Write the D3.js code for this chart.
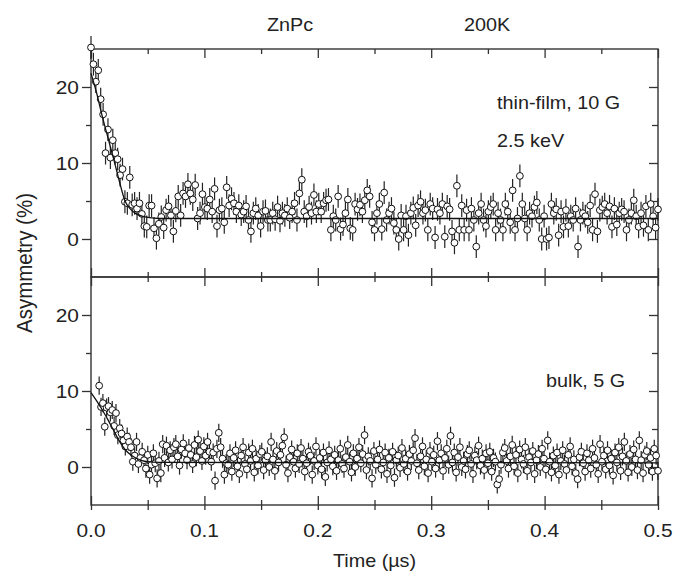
<!DOCTYPE html>
<html>
<head>
<meta charset="utf-8">
<script src="https://cdn.jsdelivr.net/npm/d3@7"></script>
<style>
  body { margin: 0; background: #fff; }
  text { font-family: "Liberation Sans", Arial, sans-serif; fill: #222; }
</style>
</head>
<body>
<script>
// thin-film, 10 G, 2.5 keV  (equal time bins)
const topValues = [
  25.2, 23.0, 20.7, 22.2, 18.4, 16.4, 11.3, 14.4, 10.7, 13.0,
  11.3, 10.5, 8.4, 9.2, 4.9, 4.7, 8.1, 4.5, 4.7, 4.0,
  4.7, 3.3, 1.7, 1.6, 4.4, 4.4, 1.4, 0.1, 2.0, 2.9,
  1.5, 3.8, 4.3, 3.1, 1.0, 3.7, 5.6, 3.1, 6.0, 5.6,
  7.2, 6.0, 5.2, 7.1, 2.7, 3.4, 5.9, 4.2, 4.0, 5.2,
  3.6, 6.6, 1.7, 3.8, 4.0, 2.2, 6.8, 4.4, 5.3, 4.7,
  3.6, 4.4, 3.2, 3.6, 4.3, 2.5, 1.0, 3.4, 4.0, 3.1,
  1.7, 3.6, 3.7, 2.5, 2.5, 3.4, 2.6, 4.2, 2.4, 3.4,
  3.1, 4.0, 2.8, 3.6, 4.7, 2.5, 6.0, 7.8, 3.6, 3.0,
  4.2, 3.4, 5.8, 3.6, 4.6, 3.6, 4.7, 5.1, 5.2, 1.2,
  3.0, 2.5, 5.6, 1.3, 1.9, 3.4, 5.2, 1.4,
  1.2, 4.6, 3.9, 4.5, 3.6, 5.1, 6.4, 5.6, 2.2, 1.2,
  3.4, 4.6, 1.3, 6.1, 2.5, 3.4, 4.0, 2.1, 1.2, 0.0,
  3.1, 1.2, 3.0, 0.5, 3.4, 4.1, 1.8, 4.4, 4.9, 3.4,
  3.8, 1.2, 4.6, 4.0, 0.2, 3.9, 3.4, 4.6, 0.3, 4.3,
  3.9, 1.0, -0.5, 7.0, 1.2, 4.4, 1.2, 3.8, 1.2, 4.0,
  2.5, -1.0, 3.4, 4.6, 2.5, 1.7, 3.6, 4.2, 4.6, 1.2,
  3.4, 2.5, 1.2, 4.6, 3.6, 2.2, 6.4, 1.2, 2.7, 8.3,
  4.6, 2.7, 1.2, 3.4, 3.0, 4.2, 4.8, 2.5, 0.0, 3.0,
  0.0, 0.2, 4.6, 3.4, 3.9, 0.5, 3.6, 1.6, 3.8, 1.7,
  3.0, 2.5, 4.0, -1.0, 2.5, 3.4, 3.0, 2.2, 4.4, 1.2,
  5.9, 1.0, 3.8, 4.2, 4.6, 3.4, 4.3, 1.6, 4.0, 1.9,
  3.4, 3.9, 3.6, 1.2, 2.5, 3.4, 5.1, 3.0, 1.6, 3.4,
  1.8, 4.3, 1.2, 4.6, 3.0, 1.5, 3.9
];
const topStart = 0;
const topStep = 0.5 / 234;
const topError = 1.5;
const topFitTimes = [0, 0.005, 0.01, 0.015, 0.02, 0.025, 0.03, 0.035, 0.04, 0.045, 0.05, 0.06, 0.5];
const topFitValues = [21.8, 19.2, 16.1, 13.3, 10.5, 7.6, 5.0, 3.9, 3.3, 3.0, 2.85, 2.7, 2.7];

// bulk, 5 G
const bottomValues = [
  10.7, 7.9, 8.4, 5.3, 7.8, 8.0, 7.2, 7.5, 5.4, 7.1,
  4.2, 5.1, 4.4, 3.5, 2.7, 4.0, 3.3, 2.6,
  0.7, 1.5, 3.3, 0.4, 1.2, 2.0, 0.9, -0.2, 1.6, -1.0,
  0.3, 1.8, 0.5, -1.5, 0.8, -0.8,
  3.0, 1.2, 2.8, 0.6, 2.2, 1.0, 2.6, 3.0, 1.4, 0.2,
  2.3, 3.1, 1.8, 0.9, 2.5, 1.6, 0.4, 2.9, 1.3, 3.6,
  2.1, 0.8, 2.7, 1.5, 3.3, 2.0, 0.7, 1.9, -1.8, 2.4,
  4.5, 2.6, 1.1, -1.0, 0.5,
  0.3, 1.8, -0.6, 1.2, 2.2, 0.1, -0.9, 1.5, 2.6, 0.4, -0.3, 1.9, 0.8, 2.4, -0.7, 1.1, 0.2, 1.7, 2.0, -0.4,
  0.9, 1.4, 0.0, 3.3, 1.0, -0.5, 2.1, 0.6, 1.6, 2.8, 3.9, 0.3, -0.8, 1.3, 2.3, 0.7, -0.2, 1.8, 0.4, 2.5,
  1.1, -0.6, 0.5, 2.0, 1.5, -1.0, 0.8, 2.7, 0.2, 1.2, -0.3, 1.9, -1.3, 0.6, 2.2, 1.0, 0.1, 1.6, -0.5, 0.9,
  2.4, 0.4, -0.2, 1.3, 2.9, 0.7, -0.7, 1.8, 0.0, 1.1, 2.6, 0.5, 1.7, 4.2, -0.4, 1.4, 0.8, -1.5, 2.1, 0.3,
  1.0, 2.3, -0.3, 0.6, 1.9, -0.9, 1.2, 0.2, 2.0, -1.4, 0.9, 1.5, -0.1, 2.5, 0.4, 1.1, -0.6, 1.7, 0.8, 2.2,
  3.8, 0.5, -0.4, 1.4, 2.7, 0.1, 1.0, -0.8, 2.1, 0.7, 1.6, -0.2, 3.4, 0.9, 1.8, -0.5, 1.2, 2.4, 0.3, 4.1,
  0.6, 1.9, -0.7, 1.3, 2.6, 0.0, 0.8, -0.3, 1.7, 2.2, 0.4, -0.9, 1.5, 0.9, 2.8, 0.2, 1.1, -0.4, 1.8, 0.5,
  2.0, -0.6, 1.2, 0.7, -2.3, -1.6, 0.3, 1.9, 2.5, 0.8, -0.2, 1.4, 2.9, 0.1, 1.6, -0.8, 2.3, 1.0, 0.4, 2.6,
  -0.5, 1.3, 0.6, 2.1, -0.9, 0.9, 1.7, 0.0, 2.4, 1.1, -0.3, 3.5, 0.7, -0.7, 1.5, 0.2, 1.9, -1.0, 0.8, 2.2,
  0.4, -0.4, 1.6, 2.7, 0.1, 1.0, -0.8, -1.6, 1.3, 2.0, 0.5, -0.6, 1.8, 0.9, -0.2, 2.4, 1.2, 0.3, -0.9, 3.0,
  0.7, 1.5, -0.3, 2.2, 0.2, 1.1, -1.1, 1.9, 0.6, 2.6, -0.5, 1.4, 3.3, 0.8, -0.7, 1.7, 0.0, 2.3, 1.0, -0.4,
  3.5, 0.9, -0.8, 1.6, 2.1, 0.3, 1.2, -0.6, 2.4, 1.5, -0.5
];
const bottomStart = 0.0072;
const bottomStep = (0.5 - 0.0072) / 299;
const bottomError = 1.2;
const bottomFitTimes = [0, 0.005, 0.01, 0.015, 0.02, 0.025, 0.03, 0.035, 0.04, 0.045, 0.05, 0.06, 0.5];
const bottomFitValues = [9.8, 8.7, 7.5, 6.2, 4.8, 3.4, 2.3, 1.6, 1.15, 0.85, 0.7, 0.6, 0.55];

const xTicks = [0, 0.1, 0.2, 0.3, 0.4, 0.5];
const xMinorTicks = [0.05, 0.15, 0.25, 0.35, 0.45];
const yTicks = [0, 10, 20];
const yMinorTicks = [5, 15];

const W = 675, H = 573;
const plotLeft = 91, plotRight = 658, plotTop = 49, plotMid = 277, plotBottom = 505;
const sx = 1.1;   // the source figure is a little wider than tall

const svg = d3.select('body').append('svg')
  .attr('width', W)
  .attr('height', H);

const x = d3.scaleLinear().domain([0, 0.5]).range([plotLeft, plotRight]);
const yTop = d3.scaleLinear().domain([-5, 25]).range([plotMid, plotTop]);
const yBot = d3.scaleLinear().domain([-5, 25]).range([plotBottom, plotMid]);

function label(txt, px, py, size, anchor, rotate) {
  const r = rotate ? ` rotate(${rotate})` : '';
  const s = rotate ? `scale(1,1.05)` : `scale(${sx},1)`;
  return svg.append('text')
    .text(txt)
    .attr('transform', `translate(${px},${py})${r} ${s}`)
    .attr('text-anchor', anchor)
    .style('font-size', size + 'px');
}

function ticks(axis, tx, ty) {
  const g = svg.append('g')
    .attr('transform', `translate(${tx},${ty})`)
    .call(axis);
  g.select('.domain').remove();
  g.selectAll('line').attr('stroke', '#333').attr('stroke-width', 1.3);
  return g;
}

function drawPanel(y, values, t0, dt, err, fitT, fitV, isBottom) {
  const pts = values.map((v, i) => ({t: t0 + i * dt, v: v}));
  const yt = y.range()[1], yb = y.range()[0];

  // frame
  svg.append('rect')
    .attr('x', plotLeft).attr('y', yt)
    .attr('width', plotRight - plotLeft).attr('height', yb - yt)
    .attr('fill', 'none').attr('stroke', '#333').attr('stroke-width', 1.4);

  // left ticks (outside)
  ticks(d3.axisLeft(y).tickValues(yTicks).tickSize(9).tickFormat(''), plotLeft, 0);
  ticks(d3.axisLeft(y).tickValues(yMinorTicks).tickSize(5).tickFormat(''), plotLeft, 0);
  // right ticks (inside)
  ticks(d3.axisRight(y).tickValues(yTicks).tickSize(-9).tickFormat(''), plotRight, 0);
  ticks(d3.axisRight(y).tickValues(yMinorTicks).tickSize(-6).tickFormat(''), plotRight, 0);
  // top / bottom ticks (inside)
  ticks(d3.axisTop(x).tickValues(xTicks).tickSize(-9).tickFormat(''), 0, yt);
  ticks(d3.axisTop(x).tickValues(xMinorTicks).tickSize(-5).tickFormat(''), 0, yt);
  ticks(d3.axisBottom(x).tickValues(xTicks).tickSize(-9).tickFormat(''), 0, yb);
  ticks(d3.axisBottom(x).tickValues(xMinorTicks).tickSize(-5).tickFormat(''), 0, yb);
  if (isBottom) {
    ticks(d3.axisBottom(x).tickValues(xTicks.concat(xMinorTicks)).tickSize(5).tickFormat(''), 0, yb);
  }

  // y tick labels
  yTicks.forEach(v => label(String(v), plotLeft - 12, y(v) + 7, 19, 'end'));

  // error bars
  svg.append('g').selectAll('line')
    .data(pts)
    .enter()
    .append('line')
    .attr('x1', d => x(d.t)).attr('x2', d => x(d.t))
    .attr('y1', d => y(d.v - err)).attr('y2', d => y(d.v + err))
    .attr('stroke', '#222').attr('stroke-width', 1.2);

  // markers
  svg.append('g').selectAll('circle')
    .data(pts)
    .enter()
    .append('circle')
    .attr('cx', d => x(d.t))
    .attr('cy', d => y(d.v))
    .attr('r', 3.4)
    .attr('fill', '#fff')
    .attr('stroke', '#111')
    .attr('stroke-width', 1);

  // fit
  const line = d3.line()
    .x(d => x(d[0]))
    .y(d => y(d[1]))
    .curve(d3.curveMonotoneX);
  svg.append('path')
    .datum(fitT.map((t, i) => [t, fitV[i]]))
    .attr('d', line)
    .attr('fill', 'none')
    .attr('stroke', '#111')
    .attr('stroke-width', 1.3);
}

drawPanel(yTop, topValues, topStart, topStep, topError, topFitTimes, topFitValues, false);
drawPanel(yBot, bottomValues, bottomStart, bottomStep, bottomError, bottomFitTimes, bottomFitValues, true);

// x tick labels
xTicks.forEach(v => label(d3.format('.1f')(v), x(v), 537, 19, 'middle'));

// texts
label('ZnPc', 290, 31, 18, 'middle');
label('200K', 487, 31, 18, 'middle');
label('thin-film, 10 G', 497, 109, 18, 'start');
label('2.5 keV', 497, 147, 18, 'start');
label('bulk, 5 G', 546, 387, 18, 'start');
label('Time (\u00b5s)', (plotLeft + plotRight) / 2, 567, 18, 'middle');
label('Asymmetry (%)', 32, 263, 20.5, 'middle', -90);
</script>
</body>
</html>
